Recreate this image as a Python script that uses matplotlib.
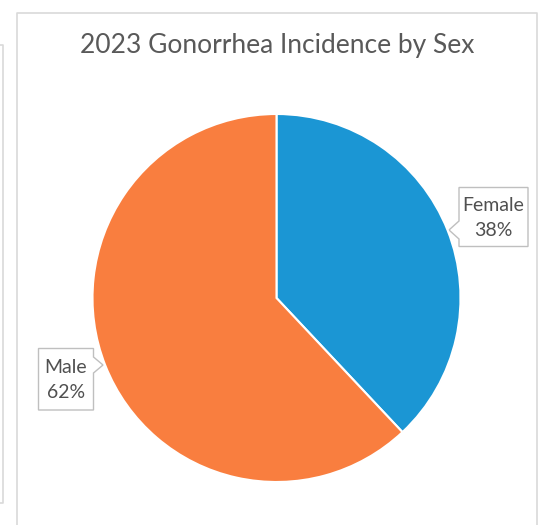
import matplotlib.pyplot as plt
from matplotlib.patches import Polygon
from matplotlib.lines import Line2D

# data
title = "2023 Gonorrhea Incidence by Sex"
sexes = ["Female", "Male"]
shares = [38, 62]
colors = ["#1B96D4", "#F97E3F"]

W, H = 543, 525
fig = plt.figure(figsize=(W / 100, H / 100), dpi=100)
fig.patch.set_facecolor("white")

# overlay in pixel coords for frame and callouts
ov = fig.add_axes([0, 0, 1, 1])
ov.set_xlim(0, W)
ov.set_ylim(H, 0)
ov.axis("off")

border = "#D9D9D9"
ov.add_line(Line2D([16.5, 16.5, 536.5, 536.5], [H + 2, 12.5, 12.5, H + 2], color=border, lw=1.2))
ov.add_line(Line2D([0, 2.5, 2.5, 0], [44.5, 44.5, 502.5, 502.5], color=border, lw=1.2))

ov.text(277, 45, title, ha="center", va="center", fontsize=19,
        family="Lato", color="#595959")

# pie: center (276, 298), radius 184 px
cx, cy, r = 276.5, 298, 184
pie_ax = fig.add_axes([(cx - r) / W, (H - cy - r) / H, 2 * r / W, 2 * r / H])
pie_ax.pie(shares, colors=colors, startangle=90, counterclock=False,
           wedgeprops=dict(edgecolor="white", linewidth=1.5))
pie_ax.set_xlim(-1, 1)
pie_ax.set_ylim(-1, 1)
pie_ax.set_aspect("equal")


def callout(x0, y0, x1, y1, tip, side, p0, p1, text):
    if side == "left":
        pts = [(x0, y0), (x1, y0), (x1, y1), (x0, y1), (x0, p1), tip, (x0, p0)]
    else:
        pts = [(x0, y0), (x1, y0), (x1, p0), tip, (x1, p1), (x1, y1), (x0, y1)]
    ov.add_patch(Polygon(pts, closed=True, facecolor="white", edgecolor="#BFBFBF",
                         lw=1.0, zorder=5))
    ov.text((x0 + x1) / 2, (y0 + y1) / 2 + 1, text, ha="center", va="center",
            fontsize=14, family="Lato", color="#505050", linespacing=1.55, zorder=6)


callout(459, 187.5, 528, 246.5, (449, 230), "left", 221, 239,
        f"{sexes[0]}\n{shares[0]}%")
callout(38.5, 348.5, 93.5, 410, (103, 365), "right", 357, 373,
        f"{sexes[1]}\n{shares[1]}%")

fig.savefig("out.png", dpi=100, facecolor="white")
